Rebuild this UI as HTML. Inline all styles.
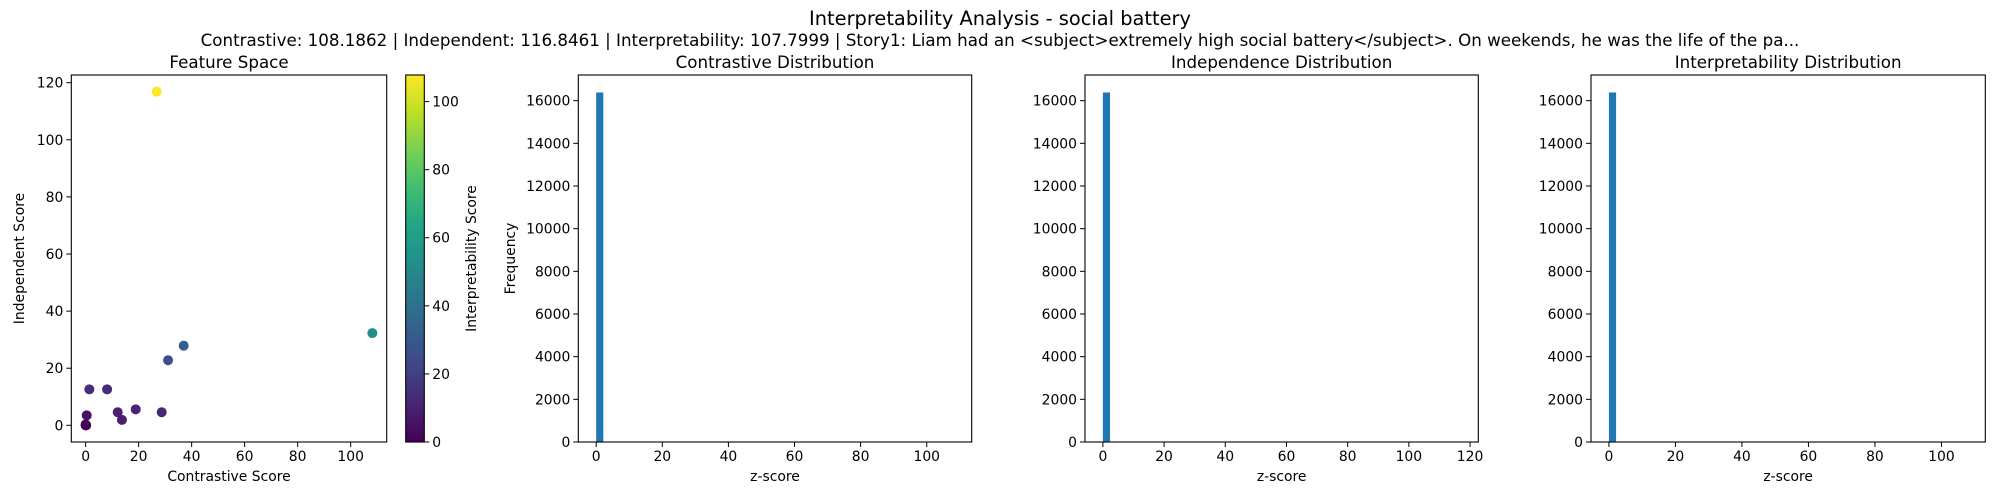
<!DOCTYPE html>
<html><head><meta charset="utf-8"><style>
html,body{margin:0;padding:0;background:#fff;}
svg{display:block;font-family:"DejaVu Sans","Liberation Sans",sans-serif;}
</style></head><body>
<svg id="fig" width="2000" height="500" viewBox="0 0 2000 500">
<defs><linearGradient id="viridis" x1="0" y1="1" x2="0" y2="0">
<stop offset="0" stop-color="#440154"/><stop offset="0.1" stop-color="#482475"/><stop offset="0.2" stop-color="#414487"/><stop offset="0.3" stop-color="#355f8d"/><stop offset="0.4" stop-color="#2a788e"/><stop offset="0.5" stop-color="#21918c"/><stop offset="0.6" stop-color="#22a884"/><stop offset="0.7" stop-color="#44bf70"/><stop offset="0.8" stop-color="#7ad151"/><stop offset="0.9" stop-color="#bddf26"/><stop offset="1" stop-color="#fde725"/>
</linearGradient></defs>
<text x="1000" y="25" text-anchor="middle" font-size="19.4">Interpretability Analysis - social battery</text>
<text x="1000" y="46" text-anchor="middle" font-size="16.7">Contrastive: 108.1862 | Independent: 116.8461 | Interpretability: 107.7999 | Story1: Liam had an &lt;subject&gt;extremely high social battery&lt;/subject&gt;. On weekends, he was the life of the pa...</text>
</svg>
<script>
// Scatter data
const contrastive = [26.8, 108.19, 37.0, 31.1, 1.4, 8.1, 0.4, 0, 0, 0.2, 12.1, 13.7, 18.9, 28.7];
const independent = [116.85, 32.3, 27.9, 22.8, 12.6, 12.6, 3.5, 0, 0.3, 0, 4.6, 1.9, 5.6, 4.6];
const interp = [107.8, 52, 32, 26, 14, 13, 6, 0, 1, 0.5, 10, 9, 11, 12];
const scatterXTicks = [0, 20, 40, 60, 80, 100];
const scatterYTicks = [0, 20, 40, 60, 80, 100, 120];
const cbarTicks = [0, 20, 40, 60, 80, 100];
// Histogram data (50 bins each, first bin holds nearly all counts)
const histContrastCounts = [16384].concat(new Array(49).fill(0));
const histIndepCounts = [16384].concat(new Array(49).fill(0));
const histInterpCounts = [16384].concat(new Array(49).fill(0));
const histContrastRange = [0, 108.19];
const histIndepRange = [0, 116.85];
const histInterpRange = [0, 107.8];
const histYTicks = [0, 2000, 4000, 6000, 8000, 10000, 12000, 14000, 16000];
const histContrastXTicks = [0, 20, 40, 60, 80, 100];
const histIndepXTicks = [0, 20, 40, 60, 80, 100, 120];
const histInterpXTicks = [0, 20, 40, 60, 80, 100];

const NS = "http://www.w3.org/2000/svg";
const svg = document.getElementById('fig');
function el(tag, attrs, parent, text){
  const e = document.createElementNS(NS, tag);
  for (const k in attrs) e.setAttribute(k, attrs[k]);
  if (text !== undefined) e.textContent = text;
  (parent||svg).appendChild(e);
  return e;
}
function scale(d0,d1,p0,p1){ return v => p0 + (v-d0)/(d1-d0)*(p1-p0); }
const TOP=75, BOT=442;

function viridis(t){
  const s=[[68,1,84],[72,36,117],[65,68,135],[53,95,141],[42,120,142],[33,145,140],[34,168,132],[68,191,112],[122,209,81],[189,223,38],[253,231,37]];
  t=Math.max(0,Math.min(1,t))*10; const i=Math.min(9,Math.floor(t)); const f=t-i;
  const c=s[i].map((v,k)=>Math.round(v+(s[i+1][k]-v)*f));
  return `rgb(${c[0]},${c[1]},${c[2]})`;
}

function axes(name, L, R, xs, ys, xticks, yticks, title, xlabel, ylabel, ylabelX){
  const g = el('g', {});
  
  
  const t = el('text', {x:(L+R)/2, y:68, 'text-anchor':'middle', 'font-size':16.7}, g, title);
  
  
  xticks.forEach(v=>{
    const x=xs(v);
    el('line',{x1:x,x2:x,y1:BOT,y2:BOT+5,stroke:'#000','stroke-width':1},g);
    const tl=el('text',{x:x,y:BOT+19,'text-anchor':'middle','font-size':13.9},g,String(v));
    
    
  });
  yticks.forEach(v=>{
    const y=ys(v);
    el('line',{x1:L-5,x2:L,y1:y,y2:y,stroke:'#000','stroke-width':1},g);
    const tl=el('text',{x:L-8,y:y+5,'text-anchor':'end','font-size':13.9},g,String(v));
    
    
  });
  const xl=el('text',{x:(L+R)/2,y:481,'text-anchor':'middle','font-size':13.9},g,xlabel);
  
  
  if (ylabel){
    const yl=el('text',{x:0,y:0,'text-anchor':'middle','font-size':13.9,transform:`translate(${ylabelX},${(TOP+BOT)/2}) rotate(-90)`},g,ylabel);
    
    
  }
  return g;
}
function frame(g,L,R){
  const f=el('rect',{x:L,y:TOP,width:R-L,height:BOT-TOP,fill:'none',stroke:'#000','stroke-width':1.1},g);
  
  
}

// Scatter
(function(){
  const L=71.3,R=386.7;
  const xs=scale(-5.41,113.6,L,R), ys=scale(-5.84,122.69,BOT,TOP);
  const g=axes('feature-space-scatter',L,R,xs,ys,scatterXTicks,scatterYTicks,'Feature Space','Contrastive Score','Independent Score',24);
  interp.forEach((v,i)=>{
    const c=el('circle',{cx:xs(contrastive[i]),cy:ys(independent[i]),r:5,fill:viridis(interp[i]/107.8)},g);
    
    
  });
  frame(g,L,R);
  // colorbar
  const cL=405.7,cR=424.3, cs=scale(0,107.8,BOT,TOP);
  const cb=el('g',{});
  
  
  el('rect',{x:cL,y:TOP,width:cR-cL,height:BOT-TOP,fill:'url(#viridis)',stroke:'#000','stroke-width':1.1},cb);
  cbarTicks.forEach(v=>{
    const y=cs(v);
    el('line',{x1:cR,x2:cR+5,y1:y,y2:y,stroke:'#000'},cb);
    const tl=el('text',{x:cR+8,y:y+5,'font-size':13.9},cb,String(v));
    
    
  });
  const lab=el('text',{x:0,y:0,'text-anchor':'middle','font-size':13.9,transform:`translate(476,${(TOP+BOT)/2}) rotate(-90)`},cb,'Interpretability Score');
  
  
})();

function hist(name,L,R,range,counts,xticks,title,ylabel){
  const pad=(range[1]-range[0])*0.05;
  const xs=scale(range[0]-pad,range[1]+pad,L,R), ys=scale(0,17203,BOT,TOP);
  const g=axes(name,L,R,xs,ys,xticks,histYTicks,title,'z-score',ylabel,ylabel?515:0);
  const w=(range[1]-range[0])/counts.length;
  counts.forEach((c,i)=>{
    if(c<=0) return;
    const x0=xs(range[0]+i*w), x1=xs(range[0]+(i+1)*w);
    const b=el('rect',{x:x0,y:ys(c),width:x1-x0,height:BOT-ys(c),fill:'#1f77b4'},g);
    
    
  });
  frame(g,L,R);
}
hist('contrastive-histogram',578.3,971.7,histContrastRange,histContrastCounts,histContrastXTicks,'Contrastive Distribution','Frequency');
hist('independence-histogram',1085,1478.3,histIndepRange,histIndepCounts,histIndepXTicks,'Independence Distribution',null);
hist('interpretability-histogram',1591,1985.3,histInterpRange,histInterpCounts,histInterpXTicks,'Interpretability Distribution',null);
</script>
</body></html>
